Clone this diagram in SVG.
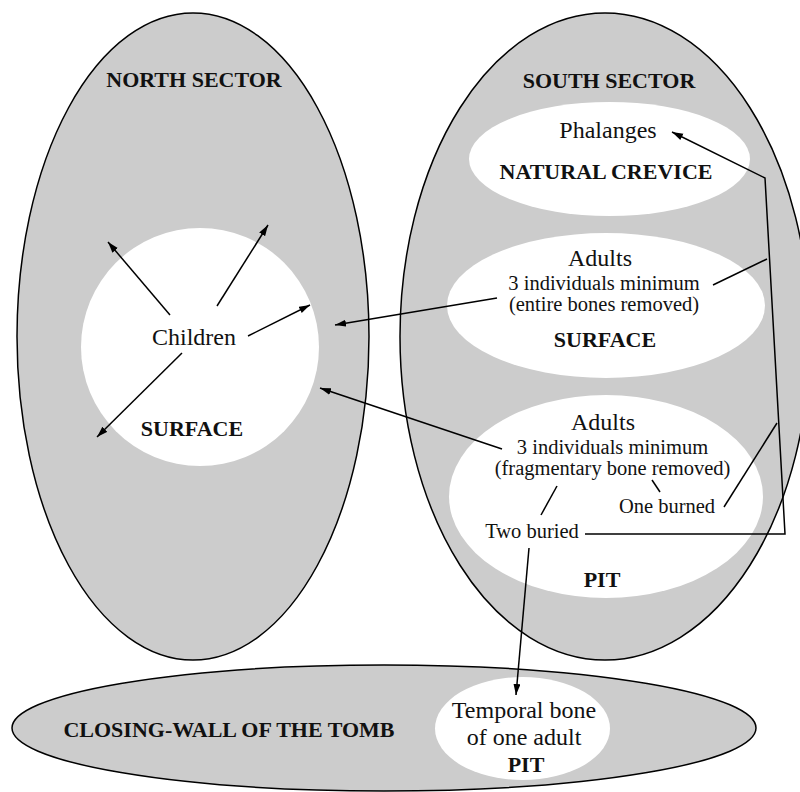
<svg xmlns="http://www.w3.org/2000/svg" width="800" height="792" viewBox="0 0 800 792">
<defs>
<marker id="ah" markerUnits="userSpaceOnUse" markerWidth="12" markerHeight="8" refX="11" refY="3.5" orient="auto">
<path d="M0,0 L11,3.5 L0,7 z" fill="#000"/>
</marker>
<style>
.zone{fill:#cccccc;stroke:#000;stroke-width:1.5}
.inner{fill:#fff;stroke:none}
text{font-family:"Liberation Serif","Times New Roman",serif;fill:#111;text-anchor:middle}
.big{font-size:24px}
.small{font-size:20.5px}
.bold{font-size:22px;font-weight:bold}
.con{fill:none;stroke:#000;stroke-width:1.5}
.arr{fill:none;stroke:#000;stroke-width:1.5;marker-end:url(#ah)}
</style>
</defs>
<rect width="800" height="792" fill="#fff"/>

<g id="north-sector">
<ellipse class="zone" cx="193" cy="336.5" rx="176" ry="323.5"/>
<text class="bold" x="194" y="87">NORTH SECTOR</text>
</g>

<g id="north-surface">
<circle class="inner" cx="200" cy="347" r="119"/>
<text class="big" x="194" y="345">Children</text>
<text class="bold" x="192" y="436">SURFACE</text>
</g>

<g id="south-sector">
<ellipse class="zone" cx="605" cy="336.5" rx="205" ry="323.5"/>
<text class="bold" x="609" y="88">SOUTH SECTOR</text>
</g>

<g id="natural-crevice">
<ellipse class="inner" cx="609.5" cy="159" rx="140.5" ry="57"/>
<text class="big" x="608" y="138">Phalanges</text>
<text class="bold" x="606" y="179">NATURAL CREVICE</text>
</g>

<g id="south-surface">
<ellipse class="inner" cx="606" cy="305.5" rx="159" ry="72.5"/>
<text class="big" x="600" y="266">Adults</text>
<text class="small" x="604" y="290">3 individuals minimum</text>
<text class="small" x="604" y="311">(entire bones removed)</text>
<text class="bold" x="605" y="347">SURFACE</text>
</g>

<g id="south-pit">
<ellipse class="inner" cx="606" cy="496.5" rx="157" ry="101.5"/>
<text class="big" x="603" y="430">Adults</text>
<text class="small" x="612.5" y="454">3 individuals minimum</text>
<text class="small" x="612.5" y="475">(fragmentary bone removed)</text>
<text class="small" x="667" y="513">One burned</text>
<text class="small" x="532" y="538">Two buried</text>
<text class="bold" x="602" y="587">PIT</text>
</g>

<g id="closing-wall">
<ellipse class="zone" cx="384" cy="728" rx="372" ry="63"/>
<text class="bold" x="229" y="737">CLOSING-WALL OF THE TOMB</text>
</g>

<g id="closing-wall-pit">
<ellipse class="inner" cx="522.5" cy="728.5" rx="87.5" ry="51.5"/>
<text class="big" x="524" y="718">Temporal bone</text>
<text class="big" x="524" y="745">of one adult</text>
<text class="bold" x="526" y="772">PIT</text>
</g>

<g id="connectors">
<line class="arr" x1="170" y1="315" x2="108" y2="242"/>
<line class="arr" x1="217" y1="306" x2="268" y2="225"/>
<line class="arr" x1="248" y1="336" x2="310" y2="305"/>
<line class="arr" x1="182" y1="353" x2="97" y2="437"/>
<line class="arr" x1="497" y1="298" x2="335" y2="325"/>
<line class="arr" x1="502" y1="449" x2="320" y2="388"/>
<line class="arr" x1="529" y1="548" x2="516" y2="695"/>
<polyline class="arr" points="585,534 785,534 765,178 672,132"/>
<line class="con" x1="713" y1="285" x2="767" y2="259"/>
<line class="con" x1="724" y1="507" x2="777" y2="423"/>
<line class="con" x1="557" y1="486" x2="541" y2="515"/>
<line class="con" x1="652" y1="480" x2="660" y2="492"/>
</g>
</svg>
